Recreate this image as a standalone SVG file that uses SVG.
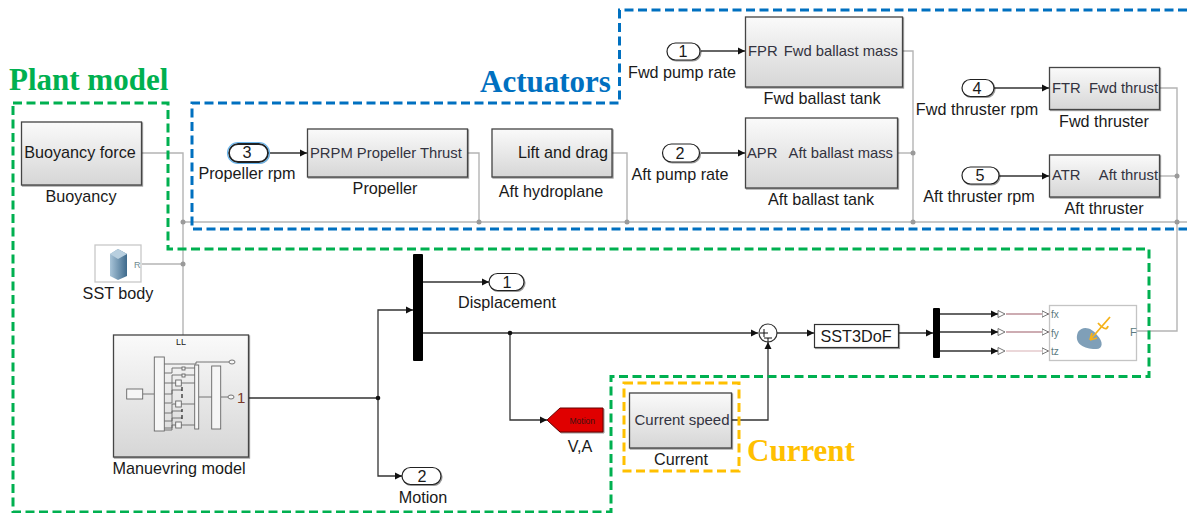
<svg xmlns="http://www.w3.org/2000/svg" width="1187" height="513" viewBox="0 0 1187 513">
<style>
text{font-family:"Liberation Sans",Arial,sans-serif;font-size:16.2px;fill:#1a1a1a}
.m{text-anchor:middle}.e{text-anchor:end}
.in{font-size:14.800px;fill:#333340}
.title{font-family:"Liberation Serif","Times New Roman",serif;font-weight:bold;font-size:31px}
.blk{fill:url(#g);stroke:#444;stroke-width:1.3;filter:url(#s)}
.port{fill:#fff;stroke:#222;stroke-width:1.2;filter:url(#s)}
.k{fill:none;stroke:#333;stroke-width:1.3}
.y{fill:none;stroke:#b4b4b4;stroke-width:1.4}
.dash{fill:none;stroke-width:3;stroke-dasharray:9 4.5}
.d{fill:#9a9a9a}.bk{fill:#111}
.mini{fill:#f6f6f6;stroke:#666;stroke-width:.9}
.ml{fill:none;stroke:#666;stroke-width:.9}
.pl{font-size:10px;fill:#5a7a80}
.rd{fill:none;stroke:#9c5a66;stroke-width:1.2}
.ho{fill:#fff;stroke:#555;stroke-width:.8}
</style>
<defs>
<linearGradient id="g" x1="0" y1="0" x2="0" y2="1"><stop offset="0" stop-color="#fafafa"/><stop offset="1" stop-color="#d6d6d6"/></linearGradient>
<linearGradient id="r" x1="0" y1="0" x2="1" y2="0"><stop offset="0" stop-color="#a8c4d8"/><stop offset="1" stop-color="#3e6a8c"/></linearGradient>
<filter id="s" x="-10%" y="-10%" width="125%" height="125%"><feDropShadow dx="1" dy="1" stdDeviation=".6" flood-color="#000" flood-opacity=".4"/></filter>
<marker id="a" markerWidth="8" markerHeight="8" refX="7" refY="4" orient="auto" markerUnits="userSpaceOnUse"><path d="M0 .5L7 4L0 7.5Z" fill="#111"/></marker>
<marker id="o" markerWidth="9" markerHeight="9" refX="7.500" refY="4" orient="auto" markerUnits="userSpaceOnUse"><path d="M.5 .8L7 4L.5 7.2Z" fill="#fff" stroke="#555" stroke-width=".8"/></marker>
</defs>

<g id="connectors">
<path class="y" d="M142 153H183V335"/>
<path class="y" d="M183 222H1187"/>
<path class="y" d="M142 264H183"/>
<path class="y" d="M468 153H479V222"/>
<path class="y" d="M612 153H627V222"/>
<path class="y" d="M903 51H913V222"/>
<path class="y" d="M898 153H913"/>
<path class="y" d="M1160 88H1177V331H1137"/>
<path class="y" d="M1160 176H1177"/>
<g class="d"><circle cx="183" cy="222" r="2.500"/><circle cx="183" cy="264" r="2.500"/><circle cx="479" cy="222" r="2.500"/><circle cx="627" cy="222" r="2.500"/><circle cx="913" cy="153" r="2.500"/><circle cx="913" cy="222" r="2.500"/><circle cx="1177" cy="176" r="2.500"/><circle cx="1177" cy="222" r="2.500"/></g>
<path class="k" d="M701 51H745" marker-end="url(#a)"/>
<path class="k" d="M701 153H745" marker-end="url(#a)"/>
<path class="k" d="M994 88H1049" marker-end="url(#a)"/>
<path class="k" d="M999 176H1049" marker-end="url(#a)"/>
<path class="k" d="M268 153H307" marker-end="url(#a)"/>
<path class="k" d="M249 398H378V310H413" marker-end="url(#a)"/>
<path class="k" d="M378 398V476H402" marker-end="url(#a)"/>
<path class="k" d="M423 282H489" marker-end="url(#a)"/>
<path class="k" d="M423 333H758" marker-end="url(#a)"/>
<path class="k" d="M510 333V420H547" marker-end="url(#a)"/>
<path class="k" d="M732 420H768V342" marker-end="url(#a)"/>
<path class="k" d="M776 333H814" marker-end="url(#a)"/>
<path class="k" d="M898 333H933" marker-end="url(#a)"/>
<path class="k" d="M940 314H998" marker-end="url(#a)"/>
<path class="k" d="M940 332H998" marker-end="url(#a)"/>
<path class="k" d="M940 351H998" marker-end="url(#a)"/>
<path class="rd" d="M1006 314H1049" marker-end="url(#o)"/>
<path class="rd" d="M1006 332H1049" marker-end="url(#o)"/>
<path d="M1006 351H1049" fill="none" stroke="#d8b0b4" stroke-width="1.100" marker-end="url(#o)"/>
<path class="ho" d="M998 310.500L1005 314L998 317.500Z"/>
<path class="ho" d="M998 328.500L1005 332L998 335.500Z"/>
<path class="ho" d="M998 347.500L1005 351L998 354.500Z"/>
<g class="bk"><circle cx="378" cy="398" r="2.300"/><circle cx="510" cy="333" r="2.300"/></g>
</g>

<g id="buoyancy"><rect class="blk" x="21.500" y="122" width="120" height="63"/><text class="m" x="80" y="158">Buoyancy force</text><text class="m" x="81" y="202">Buoyancy</text></g>
<g id="sst-body"><rect x="95" y="245" width="46" height="37" fill="#fff" stroke="#c8c8c8" stroke-width="1.300"/>
<path d="M110 254L118 249L127 254V276L118 280L110 276Z" fill="url(#r)"/><path d="M110 254L118 249L127 254L118 259Z" fill="#b8cfdf"/>
<text x="134" y="268" style="font-size:9px;fill:#6f8a90">R</text><text class="m" x="118" y="299">SST body</text></g>
<g id="manuevring"><rect class="blk" x="113.500" y="335" width="135" height="122"/>
<text x="176" y="345" style="font-size:9px">LL</text>
<path class="ml" d="M143 394H154M164 364H196V362H229M164 373H172V368H182M185 368H195M164 383H172V375H182M185 375H195M164 394H172V383H176M181 383H195M164 403H172V390H182M164 413H172V404H176M181 404H195M164 421H172V411H182M164 428H172V418H182M164 430H172V425H176M181 425H195M199 397H212M221 397H228"/>
<rect class="mini" x="126.700" y="389" width="16" height="10"/><rect class="mini" x="154.300" y="357" width="10" height="74"/><rect class="mini" x="194.700" y="365" width="4" height="64"/><rect class="mini" x="211.700" y="366" width="9" height="63"/>
<rect class="mini" x="182" y="367" width="3" height="3"/><rect class="mini" x="182" y="374" width="3" height="3"/><rect class="mini" x="175.700" y="380" width="5.600" height="6"/><rect class="mini" x="175.700" y="401" width="5.600" height="6"/><rect class="mini" x="175.700" y="422" width="5.600" height="6"/>
<path d="M182 387V391M182 394V398M182 409V412M182 415V419" stroke="#222" stroke-width="1.200" fill="none"/>
<ellipse class="mini" cx="232" cy="362" rx="3" ry="2"/><ellipse class="mini" cx="231" cy="397" rx="3" ry="2"/>
<text x="237" y="403" style="font-size:15px;fill:#7a3a2a">1</text>
<text class="m" x="179" y="474">Manuevring model</text></g>

<g id="propeller-rpm"><rect x="229" y="144" width="39" height="18" rx="9" class="port" style="stroke:#222;stroke-width:1.800"/><rect x="227.500" y="142.500" width="42" height="21" rx="10.500" fill="none" stroke="#6cb6ec" stroke-width="1.200"/><text class="m" x="247" y="158">3</text><text class="m" x="247" y="179">Propeller rpm</text></g>
<g id="propeller"><rect class="blk" x="307.500" y="129" width="160" height="48"/><text class="in" x="310" y="158">PRPM Propeller Thrust</text><text class="m" x="385" y="194">Propeller</text></g>
<g id="aft-hydroplane"><rect class="blk" x="492" y="129" width="120" height="48"/><text class="e" x="608" y="158">Lift and drag</text><text class="m" x="551" y="197">Aft hydroplane</text></g>
<g id="fwd-pump"><rect class="port" x="667" y="43" width="33" height="17" rx="8.500"/><text class="m" x="683" y="56.500">1</text><text class="m" x="682" y="78">Fwd pump rate</text></g>
<g id="aft-pump"><rect class="port" x="662.500" y="144" width="37" height="18" rx="9"/><text class="m" x="680" y="158.500">2</text><text class="m" x="680" y="180">Aft pump rate</text></g>
<g id="fwd-tank"><rect class="blk" x="745.500" y="17" width="157" height="70"/><text class="in" x="748" y="56">FPR</text><text class="in e" x="898" y="56">Fwd ballast mass</text><text class="m" x="822" y="104">Fwd ballast tank</text></g>
<g id="aft-tank"><rect class="blk" x="745.500" y="118" width="152" height="70"/><text class="in" x="747" y="158">APR</text><text class="in e" x="893" y="158">Aft ballast mass</text><text class="m" x="821" y="205">Aft ballast tank</text></g>
<g id="fwd-rpm"><rect class="port" x="962" y="79.500" width="32" height="17" rx="8.500"/><text class="m" x="977" y="93.500">4</text><text class="m" x="977" y="115">Fwd thruster rpm</text></g>
<g id="aft-rpm"><rect class="port" x="962" y="167" width="37" height="17" rx="8.500"/><text class="m" x="980" y="181">5</text><text class="m" x="979" y="202">Aft thruster rpm</text></g>
<g id="fwd-thruster"><rect class="blk" x="1049.500" y="67.500" width="110" height="42"/><text class="in" x="1052" y="93">FTR</text><text class="in e" x="1158" y="93">Fwd thrust</text><text class="m" x="1104" y="127">Fwd thruster</text></g>
<g id="aft-thruster"><rect class="blk" x="1049.500" y="155" width="110" height="42"/><text class="in" x="1052" y="180">ATR</text><text class="in e" x="1158" y="180">Aft thrust</text><text class="m" x="1104" y="214">Aft thruster</text></g>

<g id="mux-1"><rect x="413" y="254" width="10" height="107" rx="1" fill="#000"/></g>
<g id="displacement"><rect class="port" x="489" y="273.500" width="35" height="17" rx="8.500"/><text class="m" x="507" y="287.500">1</text><text class="m" x="507" y="308">Displacement</text></g>
<g id="motion"><rect class="port" x="402" y="467.500" width="39" height="17" rx="8.500"/><text class="m" x="422" y="481.500">2</text><text class="m" x="423" y="503">Motion</text></g>
<g id="goto"><path d="M547 420L560 408H603V432H560Z" fill="#e00000" stroke="#600" stroke-width="1" filter="url(#s)"/><text class="e" x="595" y="424" style="font-size:8.500px;fill:#401010">Motion</text><text class="m" x="580" y="452">V,A</text></g>
<g id="sum"><circle cx="768" cy="333" r="9" fill="#fff" stroke="#333" stroke-width="1.200"/><path d="M760 333H768M764 329V337M764 338H772M768 338V342" fill="none" stroke="#111" stroke-width="1"/></g>
<g id="sst3dof"><rect x="814.500" y="324.500" width="84" height="23" fill="#fff" stroke="#333" stroke-width="1.200" filter="url(#s)"/><text class="m" x="856" y="341.500">SST3DoF</text></g>
<g id="mux-2"><rect x="933" y="308" width="7" height="50" rx="1" fill="#000"/></g>
<g id="force-block"><rect x="1049.500" y="305.500" width="87" height="55" fill="#fff" stroke="#c4c4c4" stroke-width="1.300"/>
<text class="pl" x="1051" y="318">fx</text><text class="pl" x="1051" y="337">fy</text><text class="pl" x="1051" y="355">tz</text><text class="pl" x="1130" y="336" style="font-size:11px">F</text>
<path d="M1078 332C1083 325 1092 328 1097 335C1104 342 1103 350 1095 349C1085 349 1073 344 1078 332Z" fill="#7f9fb8"/>
<path d="M1110 317L1090 340M1090 340L1092 333M1090 340L1097 338M1098 323C1102 328 1107 331 1108 326" fill="none" stroke="#f5b21a" stroke-width="1.800"/></g>

<g id="plant-model"><path class="dash" stroke="#00b050" d="M13 103H168V249H1149V376.500H611V512H13Z"/><text class="title" x="9" y="90" style="fill:#00b050">Plant model</text></g>
<g id="actuators"><path class="dash" stroke="#0070c0" d="M1187 10H619.500V103H192V229H1187"/><text class="title" x="480" y="92" style="fill:#0070c0">Actuators</text></g>
<g id="current"><rect class="dash" stroke="#ffc000" x="624" y="383" width="115" height="88"/><text class="title" x="747" y="461" style="fill:#ffc000">Current</text><rect class="blk" x="629.500" y="393" width="102" height="55"/><text class="in m" x="682" y="425" style="font-size:15px">Current speed</text><text class="m" x="681" y="465">Current</text></g>
</svg>
